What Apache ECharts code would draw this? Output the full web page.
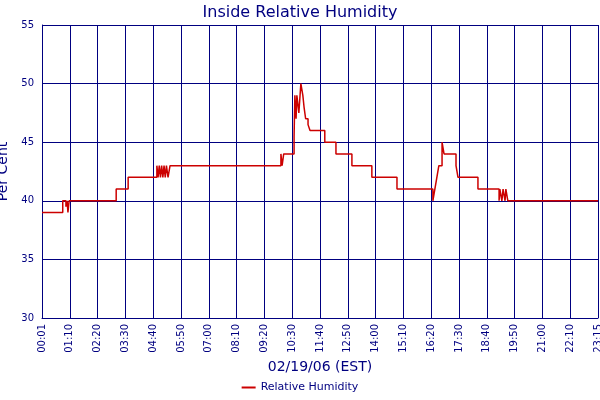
<!DOCTYPE html>
<html><head><meta charset="utf-8">
<script src="https://cdn.jsdelivr.net/npm/echarts@6/dist/echarts.min.js"></script>
<style>html,body{margin:0;padding:0;background:#fff}#c{width:600px;height:400px}</style>
</head><body><div id="c"></div>
<script>
const tickLabels = ["00:01","01:10","02:20","03:30","04:40","05:50","07:00","08:10","09:20","10:30","11:40","12:50","14:00","15:10","16:20","17:30","18:40","19:50","21:00","22:10","23:15"];
const minutes = [0,52,60,63,65,68,186,216,288,291,294,297,300,303,306,309,312,316,321,599,602,606,614,632,634,637,639,644,649,654,657,661,667,672,709,737,777,827,890,980,985,990,995,1003,1008,1038,1043,1093,1146,1148,1153,1156,1161,1163,1168,1394];
const humidity = [39,40,39.5,40,39,40,41,42,43,42,43,42,43,42,43,42,43,42,43,44,43,44,44,45.5,49,47,49,47.5,50,49,48,47,46.5,46,45,44,43,42,41,40,41,42,43,45,44,43,42,41,40,41,40,41,40,41,40,40];
const minPerTick = 69.7;
const navy = '#000080';
const font = 'DejaVu Sans';
const chart = echarts.init(document.getElementById('c'));
chart.setOption({
  animation:false,
  title:{text:'Inside Relative Humidity',left:'center',top:0,textStyle:{color:navy,fontFamily:font,fontSize:16,fontWeight:'normal'}},
  grid:{left:42,right:2,top:25,bottom:82,containLabel:false,outerBoundsMode:'none'},
  legend:{bottom:2,left:'center',data:['Relative Humidity'],icon:'rect',itemWidth:14,itemHeight:2,textStyle:{fontFamily:font,fontSize:11,color:navy}},
  xAxis:{type:'value',min:0,max:20,interval:1,
    name:'02/19/06 (EST)',nameLocation:'middle',nameGap:38,nameTextStyle:{color:navy,fontFamily:font,fontSize:14},
    axisLine:{lineStyle:{color:navy}},axisTick:{show:false},
    splitLine:{show:true,lineStyle:{color:navy,width:1}},
    axisLabel:{rotate:90,color:navy,fontFamily:font,fontSize:10,margin:6,formatter:v=>tickLabels[Math.round(v)]||''}},
  yAxis:{type:'value',min:30,max:55,interval:5,
    name:'Per Cent',nameLocation:'middle',nameGap:27,nameTextStyle:{color:navy,fontFamily:font,fontSize:14},
    axisLine:{show:true,lineStyle:{color:navy}},axisTick:{show:false},
    splitLine:{lineStyle:{color:navy,width:1}},
    axisLabel:{color:navy,fontFamily:font,fontSize:10,margin:8}},
  series:[{name:'Relative Humidity',type:'line',step:'end',showSymbol:false,
    lineStyle:{color:'#cc0000',width:1.5},itemStyle:{color:'#cc0000'},
    data:minutes.map((m,i)=>[m/minPerTick,humidity[i]])}]
});
</script></body></html>
